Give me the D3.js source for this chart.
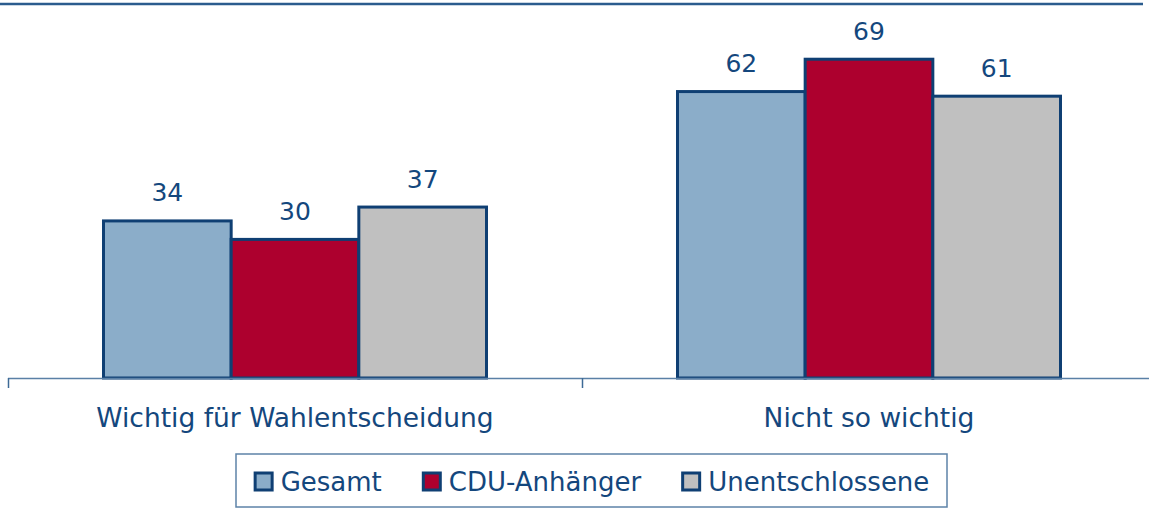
<!DOCTYPE html>
<html>
<head>
<meta charset="utf-8">
<script src="https://cdn.jsdelivr.net/npm/d3@7"></script>
<style>
  body { margin: 0; background: #fff; }
  text { font-family: "DejaVu Sans", Verdana, sans-serif; fill: #14477d; }
</style>
</head>
<body>
<div id="chart"></div>
<script>
var width = 1149;
var height = 518;

// data
var categories = ["Wichtig für Wahlentscheidung", "Nicht so wichtig"];
var series = ["Gesamt", "CDU-Anhänger", "Unentschlossene"];
var gesamt = [34, 62];
var cdu = [30, 69];
var unentschlossen = [37, 61];
var colors = ["#8badc9", "#ad002e", "#c0c0c0"];

var values = [gesamt, cdu, unentschlossen];

var svg = d3.select("#chart")
    .append("svg")
    .attr("width", width)
    .attr("height", height);

// thin rule under the (cut off) heading
svg.append("line")
    .attr("x1", 0).attr("x2", 1143)
    .attr("y1", 4).attr("y2", 4)
    .style("stroke", "#2b5c8e")
    .style("stroke-width", 2.5);

var x0 = d3.scaleBand().domain(categories).range([8, 1156]);
var groupWidth = 383;
var x1 = d3.scaleBand().domain(series).range([0, groupWidth]);
var y = d3.scaleLinear().domain([0, 80]).range([378, 8.4]);

// bars
var groups = svg.selectAll("g.group")
    .data(categories)
    .enter()
    .append("g")
    .attr("class", "group")
    .attr("transform", (d) => "translate(" + (x0(d) + (x0.bandwidth() - groupWidth) / 2) + ",0)");

groups.selectAll("rect")
    .data((d, i) => series.map((s, j) => ({s: s, j: j, v: values[j][i]})))
    .enter()
    .append("rect")
    .attr("x", d => x1(d.s))
    .attr("y", d => y(d.v))
    .attr("width", x1.bandwidth())
    .attr("height", d => y(0) - y(d.v))
    .style("fill", d => colors[d.j])
    .style("stroke", "#0f3f73")
    .style("stroke-width", 3);

groups.selectAll("text.val")
    .data((d, i) => series.map((s, j) => ({s: s, j: j, v: values[j][i]})))
    .enter()
    .append("text")
    .attr("class", "val")
    .attr("x", d => x1(d.s) + x1.bandwidth() / 2)
    .attr("y", d => y(d.v) - 19.5)
    .attr("text-anchor", "middle")
    .style("font-size", "25px")
    .text(d => d.v);

// axis line with ticks on the band borders
var axis = svg.append("g").attr("class", "axis");
axis.append("line")
    .attr("x1", 8).attr("x2", width)
    .attr("y1", y(0) + 0.5).attr("y2", y(0) + 0.5)
    .style("stroke", "#5a80a6")
    .style("stroke-width", 1.5);

axis.selectAll("line.tick")
    .data(categories)
    .enter()
    .append("line")
    .attr("class", "tick")
    .attr("x1", d => x0(d) + 0.5).attr("x2", d => x0(d) + 0.5)
    .attr("y1", y(0)).attr("y2", y(0) + 10)
    .style("stroke", "#3d6a96")
    .style("stroke-width", 1.5);

axis.selectAll("text")
    .data(categories)
    .enter()
    .append("text")
    .attr("x", d => x0(d) + x0.bandwidth() / 2)
    .attr("y", 427)
    .attr("text-anchor", "middle")
    .style("font-size", "26.5px")
    .text(d => d);

// legend
var legend = svg.append("g").attr("class", "legend");
legend.append("rect")
    .attr("x", 236).attr("y", 454)
    .attr("width", 711).attr("height", 53)
    .style("fill", "#fff")
    .style("stroke", "#5d83a8")
    .style("stroke-width", 1.5);

var items = legend.selectAll("g.item")
    .data(series)
    .enter()
    .append("g")
    .attr("class", "item");

items.append("rect")
    .attr("width", 17).attr("height", 17)
    .attr("y", 473)
    .style("fill", (d, i) => colors[i])
    .style("stroke", "#0f3f73")
    .style("stroke-width", 3);

items.append("text")
    .attr("y", 491)
    .style("font-size", "26px")
    .text(d => d);

// place the legend items side by side, centred in the box
var gap = 40;
var pos = [];
var total = 0;
items.each(function(d, i) {
    var w = d3.select(this).select("text").node().getComputedTextLength();
    pos.push(total);
    total += 27 + w + (i < series.length - 1 ? gap : 0);
});
var startX = 236 + 711 / 2 - total / 2;
items.each(function(d, i) {
    var g = d3.select(this);
    g.select("rect").attr("x", startX + pos[i] + 1.5);
    g.select("text").attr("x", startX + pos[i] + 27);
});
</script>
</body>
</html>
